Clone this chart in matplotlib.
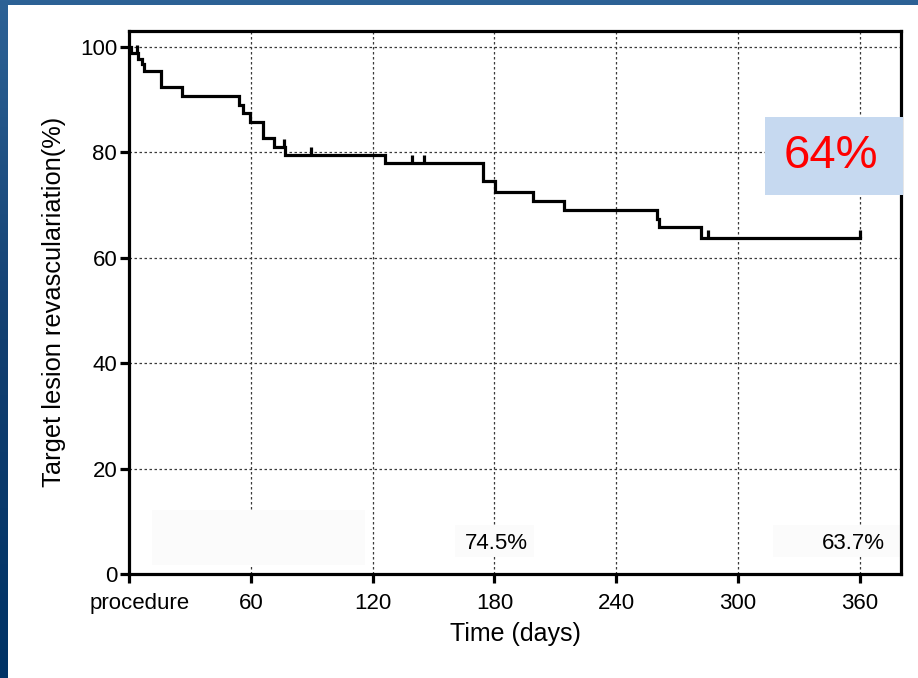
import numpy as np
import matplotlib
matplotlib.use("Agg")
import matplotlib.pyplot as plt
from matplotlib.patches import Rectangle
from matplotlib.path import Path
from matplotlib.colors import LinearSegmentedColormap
import matplotlib.transforms as mtransforms

plt.rcParams['font.family'] = ['Liberation Sans', 'DejaVu Sans']

# ---- data ----
event_days = [1, 4.5, 6.3, 7.5, 16, 26, 54.3, 56.3, 59.6, 65.9, 71.4, 76.8,
              126, 174.2, 180.3, 199.2, 214.3, 260, 261, 281.8]
event_levels = [98.8, 97.7, 96.8, 95.4, 92.3, 90.6, 89.0, 87.4, 85.8, 82.7, 81.0, 79.5,
                77.9, 74.5, 72.5, 70.8, 69.1, 67.4, 65.8, 63.7]
censor_days = [3.8, 76.4, 89.5, 139.6, 145.3, 285.4, 360]
end_day = 360

x_ticks = [0, 60, 120, 180, 240, 300, 360]
x_tick_labels = ['procedure', '60', '120', '180', '240', '300', '360']
y_ticks = [0, 20, 40, 60, 80, 100]

rate_days = [180, 360]
rate_values = [74.5, 63.7]
highlight_text = '64%'

xlabel = 'Time (days)'
ylabel = 'Target lesion revasculariation(%)'

# ---- figure ----
W, H = 918, 678
fig = plt.figure(figsize=(W / 100, H / 100), dpi=100)

# blue background with a gradient
bg = fig.add_axes([0, 0, 1, 1], zorder=-10)
grad = np.linspace(0, 1, 256).reshape(-1, 1)
cmap = LinearSegmentedColormap.from_list('bg', ['#2d6296', '#123f70', '#003366'])
bg.imshow(grad, aspect='auto', cmap=cmap, extent=[0, 1, 0, 1], origin='upper')
bg.set_axis_off()
# white panel
bg.add_patch(Rectangle((8 / W, 0), 1 - 8 / W, (H - 5) / H, transform=bg.transAxes,
                       facecolor='white', edgecolor='none', zorder=2))

L, R, T, B = 129, 901, 31, 574
ax = fig.add_axes([L / W, (H - B) / H, (R - L) / W, (B - T) / H])
ax.set_facecolor('none')

# step curve
times = [0] + event_days + [end_day]
levels = [100] + event_levels + [event_levels[-1]]
ax.step(times, levels, where='post', color='black', lw=2.3, zorder=4,
        solid_joinstyle='miter')

# censor marks (tick upward)
def level_at(d):
    lv = 100
    for t, v in zip(event_days, event_levels):
        if t <= d:
            lv = v
    return lv

cens_marker = Path([(0, 0), (0, 1)], [Path.MOVETO, Path.LINETO])
ax.plot(censor_days, [level_at(d) for d in censor_days], linestyle='none',
        marker=cens_marker, markersize=12, markeredgewidth=2.3,
        markeredgecolor='black', zorder=4, clip_on=False)

ax.set_xlim(0, 380.3)
ax.set_ylim(0, 103)
ax.set_xticks(x_ticks)
ax.set_xticklabels(x_tick_labels)
ax.set_yticks(y_ticks)

# grid lines
for xv in x_ticks[1:]:
    ax.axvline(xv, color='#3a3a3a', lw=0.9, ls=(0, (2, 2)), zorder=1)
for yv in y_ticks[1:]:
    ax.axhline(yv, color='#3a3a3a', lw=0.9, ls=(0, (2, 2)), zorder=1)

for sp in ax.spines.values():
    sp.set_linewidth(2.3)
    sp.set_color('black')
    sp.set_zorder(3)

ax.tick_params(axis='both', direction='out', length=6.5, width=2.3, labelsize=16,
               colors='black')
ax.tick_params(axis='y', pad=2)
ax.tick_params(axis='x', pad=7)

# shift "procedure" a bit to the right
lab0 = ax.get_xticklabels()[0]
lab0.set_transform(lab0.get_transform() +
                   mtransforms.ScaledTranslation(11 / 100, 0, fig.dpi_scale_trans))

ax.set_xlabel(xlabel, fontsize=18)
ax.xaxis.set_label_coords(0.5, -0.088)
ax.set_ylabel(ylabel, fontsize=18.3)
ax.yaxis.set_label_coords(-0.082, 0.501)

# faint boxes at the bottom
faint = '#fbfbfb'
ax.add_patch(Rectangle((0.0298, 0.0166), 0.276, 0.101, transform=ax.transAxes,
                       facecolor=faint, edgecolor='none', zorder=2))
ax.add_patch(Rectangle((0.422, 0.031), 0.102, 0.059, transform=ax.transAxes,
                       facecolor=faint, edgecolor='none', zorder=2))
ax.add_patch(Rectangle((0.834, 0.031), 0.1647, 0.059, transform=ax.transAxes,
                       facecolor=faint, edgecolor='none', zorder=2))

trans = mtransforms.blended_transform_factory(ax.transData, ax.transAxes)
ax.text(rate_days[0] + 1, 0.056, f'{rate_values[0]}%', transform=trans,
        ha='center', va='center', fontsize=16, zorder=5)
ax.text(rate_days[1] + 12.5, 0.056, f'{rate_values[1]}%', transform=trans,
        ha='right', va='center', fontsize=16, zorder=5)

# highlight box
ax.add_patch(Rectangle((0.824, 0.698), 0.178, 0.1436, transform=ax.transAxes,
                       facecolor='#c6d9f0', edgecolor='none', zorder=5, clip_on=False))
ax.text(0.909, 0.770, highlight_text, transform=ax.transAxes, ha='center', va='center',
        fontsize=34, color='#ff0000', zorder=6)

fig.savefig('out.png', dpi=100)
